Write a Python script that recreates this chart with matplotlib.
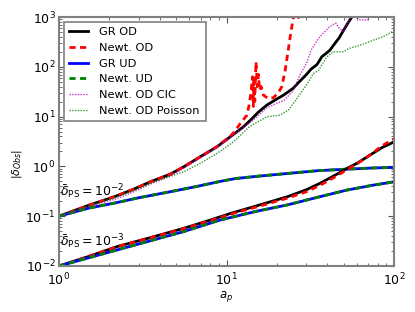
import matplotlib
matplotlib.use("Agg")
import matplotlib.pyplot as plt

# ---------------- data ----------------
# delta_PS = 1e-2 : over-density
a_gr_od_hi = [1, 1.5, 2.17, 2.8, 3.51, 4.62, 5.55, 6.97, 8.77, 10.5, 12.6, 13.9, 15.5, 17.4,
              19.5, 21.9, 25, 27.5, 30, 32, 34.6, 36, 37, 38, 40, 41.4, 43.5, 47, 50, 53, 56, 60]
d_gr_od_hi = [0.1, 0.165, 0.25, 0.35, 0.49, 0.7, 0.98, 1.56, 2.47, 3.9, 6.2, 8.5, 12.3, 17,
              21.5, 27, 37, 52, 70, 90, 110, 135, 158, 170, 195, 215, 270, 380, 540, 750,
              1000, 1400]

a_nw_od_hi = [1, 1.5, 2.17, 2.8, 3.51, 4.62, 5.55, 6.97, 8.77, 10.5, 11, 12.1, 13.2, 13.6,
              14.0, 14.3, 14.45, 14.6, 14.75, 15.0, 15.3, 15.5, 15.75, 16.1, 16.6, 17.8, 19.1,
              20.5, 21.4, 22.4, 23.2, 24.0, 24.9, 25.5, 26.5, 27.3, 28, 29, 32]
d_nw_od_hi = [0.1, 0.165, 0.25, 0.35, 0.49, 0.7, 0.98, 1.56, 2.5, 4.0, 4.7, 7.3, 10.5, 16,
              30, 63, 16, 63, 20, 125, 40, 70, 34, 40, 27, 23, 24, 31, 40, 85, 185, 400, 860,
              1300, 1100, 900, 950, 1500, 3000]

a_cic_hi = [1, 1.5, 2.17, 2.8, 3.51, 4.62, 5.55, 6.97, 8.77, 10.5, 12.6, 14, 17.4, 20, 22, 25,
            27.5, 30, 32, 35.4, 38, 41, 43.5, 45, 47, 50, 52, 54.7, 57, 60, 63, 66, 69, 71.5]
d_cic_hi = [0.1, 0.155, 0.22, 0.31, 0.44, 0.64, 0.92, 1.48, 2.4, 3.8, 6.0, 7.8, 15, 18.5, 21,
            33, 70, 117, 215, 370, 480, 620, 714, 750, 600, 500, 700, 970, 1050, 950, 870,
            880, 860, 950]

a_poi_hi = [1, 1.5, 2.17, 2.8, 3.51, 4.62, 5.55, 6.97, 8.77, 11, 13.8, 17.4, 20.9, 23.4, 26.3,
            30, 33, 35.4, 39.7, 43.5, 50, 53.5, 62.7, 75, 86, 97, 100]
d_poi_hi = [0.1, 0.16, 0.24, 0.33, 0.46, 0.63, 0.78, 1.15, 1.82, 3.1, 6.4, 9.9, 10.7, 13.5,
            23, 43, 73, 85, 158, 200, 200, 232, 270, 342, 400, 500, 510]

# delta_PS = 1e-2 : under-density
a_ud_hi = [1, 1.5, 2.17, 3.0, 4.62, 6.5, 9.18, 11.3, 15, 23, 35, 52, 75, 100]
d_ud_hi = [0.1, 0.145, 0.185, 0.235, 0.31, 0.39, 0.5, 0.57, 0.63, 0.72, 0.82, 0.88, 0.93,
           0.955]

# delta_PS = 1e-3 : over-density
a_od_lo = [1, 1.5, 2.22, 3.5, 5.54, 7.5, 10.6, 15, 23, 30, 36.3, 45, 52, 60, 72, 85, 100]
d_gr_od_lo = [0.01, 0.0155, 0.0245, 0.037, 0.057, 0.078, 0.114, 0.16, 0.245, 0.34, 0.46, 0.68,
              0.9, 1.15, 1.69, 2.4, 3.1]
d_nw_od_lo = [0.01, 0.0155, 0.0245, 0.037, 0.056, 0.076, 0.11, 0.152, 0.23, 0.31, 0.42, 0.63,
              0.85, 1.12, 1.7, 2.6, 3.6]

# delta_PS = 1e-3 : under-density
a_ud_lo = [1, 2.22, 5.54, 9.18, 15, 23, 35, 52.4, 75, 100]
d_ud_lo = [0.01, 0.021, 0.049, 0.084, 0.125, 0.168, 0.24, 0.335, 0.42, 0.49]

labels = ["GR OD", "Newt. OD", "GR UD", "Newt. UD", "Newt. OD CIC", "Newt. OD Poisson"]
annot_hi = r"$\bar{\delta}_{\rm PS}=10^{-2}$"
annot_lo = r"$\bar{\delta}_{\rm PS}=10^{-3}$"

# ---------------- figure ----------------
fig = plt.figure(figsize=(4.15, 3.12), dpi=100)
ax = fig.add_axes([59 / 415, 1 - 266 / 312, (394 - 59) / 415, (266 - 17) / 312])

dash = (0, (2.2, 1.6))
dot = (0, (1, 1))

l1, = ax.plot(a_gr_od_hi, d_gr_od_hi, color="k", lw=2, label=labels[0])
l2, = ax.plot(a_nw_od_hi, d_nw_od_hi, color="r", lw=2, ls=dash, label=labels[1])
l3, = ax.plot(a_ud_hi, d_ud_hi, color="b", lw=2, label=labels[2])
l4, = ax.plot(a_ud_hi, d_ud_hi, color="g", lw=2, ls=dash, label=labels[3])
l5, = ax.plot(a_cic_hi, d_cic_hi, color="m", lw=1, ls=dot, alpha=0.8, label=labels[4])
l6, = ax.plot(a_poi_hi, d_poi_hi, color="g", lw=1, ls=dot, alpha=0.8, label=labels[5])

ax.plot(a_od_lo, d_gr_od_lo, color="k", lw=2)
ax.plot(a_od_lo, d_nw_od_lo, color="r", lw=2, ls=dash)
ax.plot(a_ud_lo, d_ud_lo, color="b", lw=2)
ax.plot(a_ud_lo, d_ud_lo, color="g", lw=2, ls=dash)

ax.set_xscale("log")
ax.set_yscale("log")
ax.set_xlim(1, 100)
ax.set_ylim(1e-2, 1e3)

ax.text(1.02, 0.305, annot_hi, fontsize=9, va="center", ha="left")
ax.text(1.02, 0.030, annot_lo, fontsize=9, va="center", ha="left")

ax.set_xlabel(r"$a_p$", fontsize=8.5, labelpad=0.5)
ax.set_ylabel(r"$|\delta_{Obs}|$", fontsize=8)
ax.yaxis.set_label_coords(-0.105, 0.41)

for sp in ax.spines.values():
    sp.set_color("#808080")
    sp.set_linewidth(1.5)
ax.tick_params(which="both", direction="in", top=True, right=True, color="#555555",
               labelsize=9)
ax.tick_params(which="major", length=4, width=0.8)
ax.tick_params(which="minor", length=2, width=0.6)
ax.tick_params(axis="x", which="major", pad=4)
ax.tick_params(axis="y", which="major", pad=2.5)

leg = ax.legend(handles=[l1, l2, l3, l4, l5, l6], loc="upper left", fontsize=8.2,
                fancybox=False, framealpha=1, edgecolor="#808080",
                borderaxespad=0.4, labelspacing=0.5, handlelength=1.65,
                handletextpad=1.0, borderpad=0.5)
leg.get_frame().set_linewidth(1.2)

fig.savefig("out.png", dpi=100)
